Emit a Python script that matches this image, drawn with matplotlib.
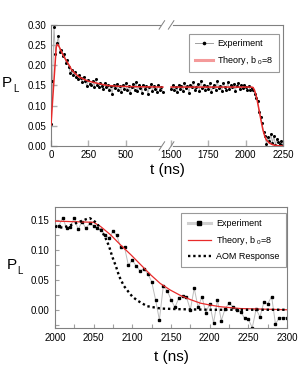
import numpy as np
import matplotlib
matplotlib.use("Agg")
import matplotlib.pyplot as plt
from matplotlib.lines import Line2D
from matplotlib.ticker import MultipleLocator, FormatStrFormatter

plt.rcParams['font.family'] = ['Liberation Sans', 'DejaVu Sans']
plt.rcParams['mathtext.fontset'] = 'custom'
plt.rcParams['mathtext.rm'] = 'Liberation Sans'
plt.rcParams['mathtext.it'] = 'Liberation Sans'

# ---- top panel data (broken time axis) ----
t_left = np.arange(0, 760, 10)
p_left = [0.055, 0.160, 0.295, 0.228, 0.255, 0.272, 0.232, 0.238, 0.222, 0.228,
          0.205, 0.212, 0.195, 0.180, 0.188, 0.176, 0.184, 0.170, 0.165, 0.176,
          0.168, 0.158, 0.172, 0.160, 0.148, 0.163, 0.154, 0.150, 0.162, 0.147,
          0.166, 0.152, 0.145, 0.157, 0.149, 0.142, 0.155, 0.146, 0.151, 0.138,
          0.148, 0.130, 0.152, 0.143, 0.154, 0.140, 0.148, 0.135, 0.150, 0.142,
          0.156, 0.138, 0.149, 0.132, 0.145, 0.153, 0.140, 0.158, 0.136, 0.150,
          0.144, 0.132, 0.152, 0.141, 0.148, 0.130, 0.146, 0.153, 0.137, 0.149,
          0.142, 0.135, 0.151, 0.140, 0.146, 0.134]
t_right = np.arange(1500, 2260, 10)
p_right = [0.142, 0.150, 0.138, 0.147, 0.135, 0.152, 0.141, 0.148, 0.136, 0.155,
           0.143, 0.149, 0.132, 0.151, 0.145, 0.158, 0.139, 0.147, 0.154, 0.137,
           0.162, 0.144, 0.150, 0.138, 0.149, 0.141, 0.156, 0.134, 0.147, 0.152,
           0.140, 0.160, 0.143, 0.149, 0.136, 0.155, 0.146, 0.139, 0.158, 0.142,
           0.150, 0.145, 0.154, 0.137, 0.148, 0.156, 0.141, 0.150, 0.143, 0.152,
           0.146, 0.140, 0.149, 0.138, 0.144, 0.139, 0.130, 0.118, 0.112, 0.085,
           0.072, 0.058, 0.035, 0.025, 0.005, 0.022, 0.012, 0.030, 0.008, 0.025,
           0.002, 0.018, 0.010, 0.004, 0.012, 0.002]
th_t_left = [0, 12, 25, 35, 42, 50, 60, 80, 103, 125, 136, 150, 181, 200, 248, 315, 377, 450, 550, 750]
th_p_left = [0.052, 0.120, 0.190, 0.245, 0.252, 0.249, 0.242, 0.226, 0.211, 0.198, 0.190, 0.184,
             0.173, 0.169, 0.161, 0.155, 0.150, 0.148, 0.147, 0.146]
th_t_right = [1500, 2040, 2050, 2060, 2072, 2083, 2094, 2105, 2116, 2128, 2139, 2160, 2183, 2210, 2250]
th_p_right = [0.146, 0.146, 0.145, 0.138, 0.123, 0.103, 0.082, 0.060, 0.040, 0.025, 0.015,
              0.007, 0.003, 0.001, 0.000]
top_tick_vals = [0, 250, 500, 1500, 1750, 2000, 2250]
gap_shift = 695  # times >= 1500 are drawn shifted left by this

# ---- bottom panel data ----
t_exp = np.arange(2000, 2305, 5)
p_exp = [0.140, 0.140, 0.153, 0.137, 0.138, 0.154, 0.134, 0.147, 0.136, 0.144,
         0.140, 0.137, 0.133, 0.125, 0.119, 0.131, 0.124, 0.104, 0.104, 0.074,
         0.083, 0.073, 0.065, 0.068, 0.060, 0.047, 0.017, -0.017, 0.039, 0.032,
         0.017, 0.004, 0.019, 0.023, 0.021, 0.000, 0.036, 0.004, 0.022, -0.005,
         0.010, -0.022, 0.016, -0.018, 0.002, 0.011, 0.005, 0.000, -0.003, -0.014,
         -0.016, -0.030, 0.001, -0.012, 0.013, 0.010, 0.022, -0.024, -0.013, -0.013,
         -0.013]
t_th = [2000, 2025, 2050, 2059, 2072, 2085, 2098, 2111, 2124, 2136, 2149, 2162, 2175,
        2188, 2200, 2214, 2240, 2270, 2300]
p_th = [0.148, 0.147, 0.146, 0.139, 0.125, 0.108, 0.092, 0.075, 0.058, 0.044, 0.033,
        0.024, 0.017, 0.011, 0.008, 0.005, 0.002, 0.001, 0.000]
t_aom = [2000, 2010, 2020, 2030, 2040, 2045, 2050, 2055, 2060, 2065, 2070, 2074, 2079,
         2083, 2089, 2095, 2100, 2107, 2119, 2137, 2160, 2200, 2300]
p_aom = [0.139, 0.137, 0.141, 0.146, 0.151, 0.153, 0.149, 0.143, 0.132, 0.121, 0.106,
         0.089, 0.072, 0.056, 0.040, 0.030, 0.022, 0.015, 0.006, 0.002, 0.001, 0.000, 0.000]

def shift(t):
    t = np.asarray(t, dtype=float)
    return np.where(t >= 1500, t - gap_shift, t)

gray = '#808080'
red = '#e82a2a'

fig = plt.figure(figsize=(3.0, 3.72), dpi=100)

# ================= top =================
ax1 = fig.add_axes([0.17, 0.6075, 0.773, 0.3255])
ax1.plot(t_left, p_left, color='#a8a8a8', lw=0.6, marker='o', ms=1.2, mfc='k', mec='k', zorder=2)
ax1.plot(shift(t_right), p_right, color='#a8a8a8', lw=0.6, marker='o', ms=1.2, mfc='k', mec='k', zorder=2)
ax1.plot(th_t_left, th_p_left, color=red, lw=1.1, zorder=3)
ax1.plot(shift(th_t_right), th_p_right, color=red, lw=1.1, zorder=3)
ax1.set_xlim(0, 1555)
ax1.set_ylim(0, 0.30)
ax1.set_xticks(shift(top_tick_vals))
ax1.set_xticklabels([str(v) for v in top_tick_vals])
ax1.yaxis.set_major_locator(MultipleLocator(0.05))
ax1.yaxis.set_major_formatter(FormatStrFormatter('%.2f'))
ax1.tick_params(direction='in', length=4, width=1, color='#b0b0b0', labelsize=7, pad=3)

# broken spines
for s in ['top', 'bottom']:
    ax1.spines[s].set_visible(False)
for y in [0, 1]:
    ax1.plot([0, 0.47], [y, y], color=gray, lw=0.8, transform=ax1.transAxes, clip_on=False)
    ax1.plot([0.526, 1], [y, y], color=gray, lw=0.8, transform=ax1.transAxes, clip_on=False)
    for xc in [0.478, 0.518]:
        ax1.plot([xc - 0.012, xc + 0.012], [y - 0.035, y + 0.035], color=gray, lw=0.7,
                 transform=ax1.transAxes, clip_on=False)
for s in ['left', 'right']:
    ax1.spines[s].set_color(gray)
    ax1.spines[s].set_linewidth(0.8)

h1 = [Line2D([], [], color='#a0a0a0', lw=0.7, marker='o', ms=1.6, mfc='k', mec='k'),
      Line2D([], [], color='#f49a9a', lw=2.2)]
leg1 = ax1.legend(h1, ['Experiment', 'Theory, b $_0$=8'], loc='upper right',
                  bbox_to_anchor=(0.983, 0.926), fontsize=6.5, frameon=True, fancybox=False,
                  numpoints=1, handlelength=2.0, borderpad=0.6, labelspacing=0.6, handletextpad=0.5,
                  borderaxespad=0)
leg1.get_frame().set_edgecolor(gray)
leg1.get_frame().set_linewidth(0.8)

ax1.set_xlabel('t (ns)', fontsize=11, labelpad=2)
fig.text(2 / 300, 1 - 87 / 372, 'P', fontsize=11)
fig.text(13 / 300, 1 - 92 / 372, 'L', fontsize=7)

# ================= bottom =================
ax2 = fig.add_axes([0.183, 0.119, 0.774, 0.3253])
ax2.plot(t_exp, p_exp, color='#bcbcbc', lw=0.7, marker='s', ms=1.8, mfc='k', mec='k', zorder=2)
ax2.plot(t_th, p_th, color=red, lw=0.9, zorder=3)
ax2.plot(t_aom, p_aom, color='k', lw=1.7, linestyle=(0, (1, 1.2)), zorder=4)
ax2.set_xlim(2000, 2300)
ax2.set_ylim(-0.03, 0.172)
ax2.xaxis.set_major_locator(MultipleLocator(50))
ax2.xaxis.set_minor_locator(MultipleLocator(25))
ax2.yaxis.set_major_locator(MultipleLocator(0.05))
ax2.yaxis.set_minor_locator(MultipleLocator(0.025))
ax2.yaxis.set_major_formatter(FormatStrFormatter('%.2f'))
ax2.tick_params(which='both', direction='in', length=3, width=0.8, color='#a0a0a0', labelsize=7, pad=4)
for s in ax2.spines.values():
    s.set_color(gray)
    s.set_linewidth(0.8)

h2 = [Line2D([], [], color='#d0d0d0', lw=2.2, marker='s', ms=2.2, mfc='k', mec='k'),
      Line2D([], [], color=red, lw=0.9),
      Line2D([], [], color='k', lw=1.7, linestyle=(0, (1, 1.2)))]
leg2 = ax2.legend(h2, ['Experiment', 'Theory, b $_0$=8', 'AOM Response'], loc='upper right',
                  bbox_to_anchor=(0.996, 0.948), fontsize=6.5, frameon=True, fancybox=False,
                  numpoints=1, handlelength=2.6, borderpad=0.7, labelspacing=0.6, handletextpad=0.6,
                  borderaxespad=0)
leg2.get_frame().set_edgecolor(gray)
leg2.get_frame().set_linewidth(0.8)

ax2.set_xlabel('t (ns)', fontsize=11, labelpad=5)
fig.text(7 / 300, 1 - 269 / 372, 'P', fontsize=11)
fig.text(17 / 300, 1 - 274 / 372, 'L', fontsize=7)

fig.savefig('out.png', dpi=100)
